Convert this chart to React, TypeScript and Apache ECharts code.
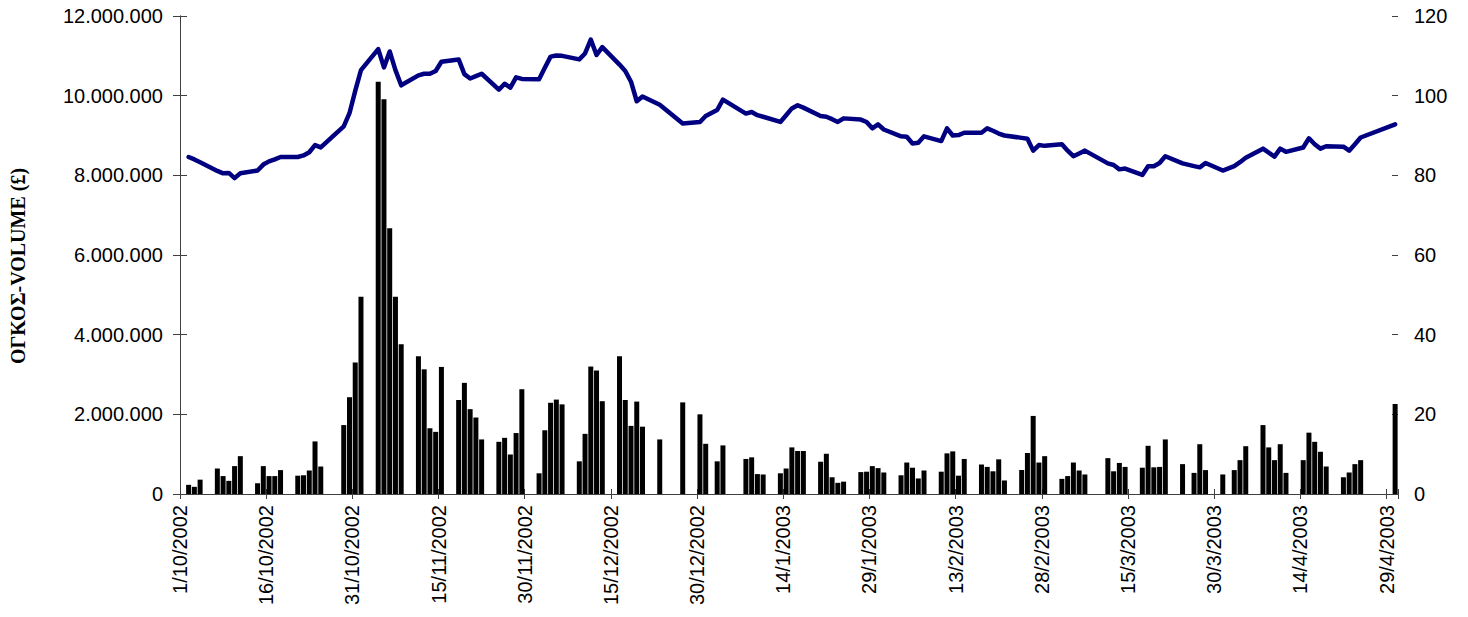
import React, { useEffect, useRef } from 'react';
import * as echarts from 'echarts';

// Calendar-day offsets from 1/10/2002 (0 = 1/10/2002, 211 = 30/4/2003)
const tickLabels = [
  '1/10/2002', '16/10/2002', '31/10/2002', '15/11/2002', '30/11/2002',
  '15/12/2002', '30/12/2002', '14/1/2003', '29/1/2003', '13/2/2003',
  '28/2/2003', '15/3/2003', '30/3/2003', '14/4/2003', '29/4/2003',
];

const tradingDays = [
  1, 2, 3, 6, 7, 8, 9, 10, 13, 14, 15, 16, 17, 20, 21, 22, 23, 24,
  28, 29, 30, 31, 34, 35, 36, 37, 38, 41, 42, 43, 44, 45, 48, 49, 50, 51, 52,
  55, 56, 57, 58, 59, 62, 63, 64, 65, 66, 69, 70, 71, 72, 73, 76, 77, 78, 79, 80,
  83, 87, 90, 91, 93, 94, 98, 99, 100, 101, 104, 105, 106, 107, 108,
  111, 112, 113, 114, 115, 118, 119, 120, 121, 122, 125, 126, 127, 128, 129,
  132, 133, 134, 135, 136, 139, 140, 141, 142, 143, 146, 147, 148, 149, 150,
  153, 154, 155, 156, 157, 161, 162, 163, 164, 167, 168, 169, 170, 171,
  174, 176, 177, 178, 181, 183, 184, 185, 188, 189, 190, 191, 192,
  195, 196, 197, 198, 199, 202, 203, 204, 205, 211,
];

const volumes = [
  230000, 180000, 360000, 640000, 450000, 330000, 700000, 950000, 270000, 700000, 450000, 450000, 600000, 460000, 470000, 590000, 1320000, 690000,
  1730000, 2430000, 3300000, 4950000, 10350000, 9910000, 6670000, 4950000, 3760000, 3460000, 3130000, 1650000, 1560000, 3190000, 2360000, 2790000, 2130000, 1920000, 1370000,
  1310000, 1410000, 990000, 1530000, 2630000, 520000, 1600000, 2290000, 2370000, 2250000, 820000, 1510000, 3200000, 3100000, 2330000, 3460000, 2360000, 1710000, 2320000, 1690000,
  1370000, 2300000, 2000000, 1260000, 820000, 1220000, 880000, 920000, 500000, 490000, 520000, 640000, 1170000, 1080000, 1080000,
  810000, 1010000, 420000, 280000, 310000, 550000, 560000, 700000, 650000, 540000, 470000, 790000, 660000, 390000, 590000,
  560000, 1020000, 1070000, 460000, 880000, 740000, 680000, 570000, 870000, 340000, 600000, 1030000, 1960000, 790000, 950000,
  380000, 450000, 790000, 590000, 490000, 900000, 570000, 780000, 680000, 660000, 1210000, 670000, 680000, 1370000,
  750000, 530000, 1250000, 600000, 490000, 600000, 850000, 1200000, 1730000, 1170000, 850000, 1250000, 530000,
  850000, 1540000, 1310000, 1060000, 690000, 420000, 540000, 750000, 850000, 2260000,
];

const prices = [
  84.6, 84.0, 83.3, 81.1, 80.5, 80.6, 79.3, 80.5, 81.2, 82.7, 83.5, 84.0, 84.6, 84.6, 85.0, 85.8, 87.6, 87.0,
  92.3, 95.6, 101.2, 106.4, 111.7, 107.1, 111.1, 106.4, 102.6, 105.1, 105.5, 105.5, 106.2, 108.5, 109.1, 105.4, 104.3, 104.9, 105.5,
  101.5, 103.0, 102.0, 104.6, 104.2, 104.1, 107.0, 109.8, 110.1, 110.0, 109.1, 110.6, 114.1, 110.2, 112.2, 107.8, 106.2, 103.5, 98.6, 99.8,
  97.7, 93.0, 93.4, 94.9, 96.4, 99.0, 95.5, 95.9, 95.1, 94.7, 93.4, 95.1, 96.8, 97.6, 97.0,
  94.9, 94.7, 94.1, 93.4, 94.3, 94.0, 93.4, 91.8, 92.8, 91.5, 89.8, 89.7, 88.0, 88.2, 89.8,
  88.6, 91.8, 90.0, 90.1, 90.7, 90.7, 91.8, 91.2, 90.5, 90.0, 89.4, 89.2, 86.2, 87.6, 87.4,
  87.8, 86.2, 84.8, 85.5, 86.2, 83.0, 82.6, 81.5, 81.7, 80.1, 82.3, 82.3, 83.1, 84.8,
  83.0, 82.3, 82.0, 83.1, 81.2, 82.3, 83.3, 84.4, 86.7, 85.7, 84.7, 86.7, 85.9,
  87.0, 89.3, 87.8, 86.7, 87.3, 87.2, 86.2, 87.8, 89.5, 92.8,
];

const totalDays = 212;
const tickStep = 15;
const yTitle = 'ΟΓΚΟΣ-VOLUME (£)';

const FONT = "'Liberation Sans', Arial, sans-serif";
const AXIS_COLOR = '#404040';

function dotThousands(v: number): string {
  return String(Math.round(v)).replace(/\B(?=(\d{3})+(?!\d))/g, '.');
}

export default function App() {
  const ref = useRef<HTMLDivElement>(null);

  useEffect(() => {
    if (!ref.current) return;
    const chart = echarts.init(ref.current, null, { renderer: 'svg' });

    const barData = tradingDays.map((d, i) => [d + 0.5, volumes[i]]);
    const lineData = tradingDays.map((d, i) => [d + 0.5, prices[i]]);

    const xFormatter = (v: number) => {
      const r = Math.round(v);
      if (r % tickStep === 0 && r / tickStep < tickLabels.length) return tickLabels[r / tickStep];
      return '';
    };

    const option = {
      animation: false,
      backgroundColor: '#ffffff',
      grid: {
        left: 180,
        right: 70,
        top: 16,
        bottom: 123,
        show: false,
      },
      xAxis: [
        {
          type: 'value',
          min: 0,
          max: totalDays,
          interval: tickStep,
          position: 'bottom',
          splitLine: { show: false },
          axisLine: { show: true, lineStyle: { color: AXIS_COLOR, width: 1 } },
          axisTick: { show: true, length: 5, lineStyle: { color: AXIS_COLOR } },
          axisLabel: {
            rotate: 90,
            margin: 11,
            color: '#000',
            fontFamily: FONT,
            fontSize: 20,
            formatter: xFormatter,
            showMaxLabel: true,
            showMinLabel: true,
          },
        },
        {
          type: 'value',
          min: 0,
          max: totalDays,
          interval: tickStep,
          position: 'bottom',
          splitLine: { show: false },
          axisLine: { show: false },
          axisTick: { show: true, inside: true, length: 5, lineStyle: { color: AXIS_COLOR } },
          axisLabel: { show: false },
        },
      ],
      yAxis: [
        {
          type: 'value',
          position: 'left',
          min: 0,
          max: 12000000,
          interval: 2000000,
          splitLine: { show: false },
          axisLine: { show: true, lineStyle: { color: AXIS_COLOR, width: 1 } },
          axisTick: { show: true, length: 7, lineStyle: { color: AXIS_COLOR } },
          axisLabel: {
            margin: 17,
            color: '#000',
            fontFamily: FONT,
            fontSize: 20,
            formatter: (v: number) => dotThousands(v),
          },
        },
        {
          type: 'value',
          position: 'right',
          min: 0,
          max: 120,
          interval: 20,
          splitLine: { show: false },
          axisLine: { show: true, lineStyle: { color: AXIS_COLOR, width: 1 } },
          axisTick: { show: true, length: 7, lineStyle: { color: AXIS_COLOR } },
          axisLabel: {
            margin: 16,
            color: '#000',
            fontFamily: FONT,
            fontSize: 20,
          },
        },
        {
          type: 'value',
          position: 'left',
          min: 0,
          max: 12000000,
          interval: 2000000,
          splitLine: { show: false },
          axisLine: { show: false },
          axisTick: { show: true, inside: true, length: 6, lineStyle: { color: AXIS_COLOR } },
          axisLabel: { show: false },
        },
        {
          type: 'value',
          position: 'right',
          min: 0,
          max: 120,
          interval: 20,
          splitLine: { show: false },
          axisLine: { show: false },
          axisTick: { show: true, inside: true, length: 6, lineStyle: { color: AXIS_COLOR } },
          axisLabel: { show: false },
        },
      ],
      graphic: [
        {
          type: 'text',
          x: 18,
          y: 266,
          rotation: Math.PI / 2,
          style: {
            text: yTitle,
            fill: '#000',
            font: "bold 20px 'Liberation Serif', 'Times New Roman', serif",
            textAlign: 'center',
            textVerticalAlign: 'middle',
          },
        },
      ],
      series: [
        {
          type: 'bar',
          name: 'Volume',
          xAxisIndex: 0,
          yAxisIndex: 0,
          data: barData,
          barWidth: 5,
          itemStyle: { color: '#000000' },
          z: 2,
        },
        {
          type: 'line',
          name: 'Price',
          xAxisIndex: 0,
          yAxisIndex: 1,
          data: lineData,
          showSymbol: false,
          symbol: 'none',
          lineStyle: { color: '#000080', width: 4.5, join: 'round', cap: 'round' },
          z: 3,
        },
      ],
    };

    chart.setOption(option as any);
    return () => chart.dispose();
  }, []);

  return (
    <div
      ref={ref}
      style={{ position: 'fixed', left: 0, top: 0, width: '1468px', height: '617px', background: '#fff' }}
    />
  );
}
